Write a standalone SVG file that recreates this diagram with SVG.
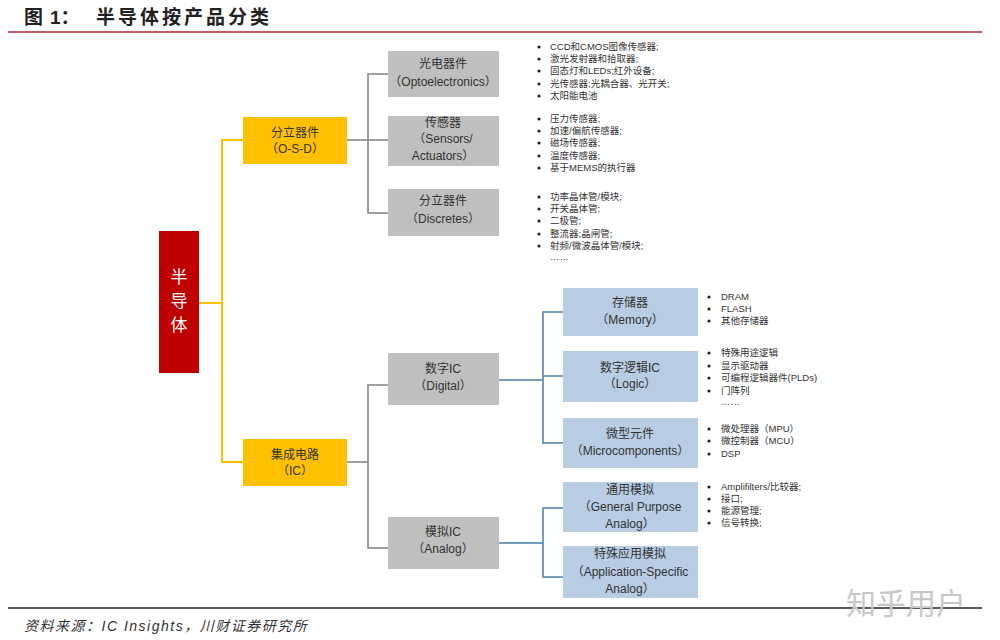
<svg xmlns="http://www.w3.org/2000/svg" width="1000" height="640" viewBox="0 0 1000 640">
<style>
text{font-family:"Liberation Sans","Noto Sans CJK SC",sans-serif;}
.bt{font-size:12px;fill:#333;text-anchor:middle;}
.li{font-size:9.5px;fill:#333;}
.dot{fill:#222;}
.gray{fill:#BFBFBF;}
.blue{fill:#B8CCE4;}
.yel{fill:#FFC000;}
.cy{stroke:#FFC000;stroke-width:2;fill:none;}
.cg{stroke:#808080;stroke-width:1.5;fill:none;}
.cb{stroke:#4A7EA8;stroke-width:1.5;fill:none;}
</style>
<rect width="1000" height="640" fill="#fff"/>
<text x="24" y="24" font-size="19" font-weight="bold" fill="#222">图</text>
<text x="50" y="24" font-size="19" font-weight="bold" fill="#222">1：</text>
<text x="96" y="24" font-size="19" font-weight="bold" fill="#222" letter-spacing="3">半导体按产品分类</text>
<line x1="8" y1="32" x2="982" y2="32" stroke="#B0222A" stroke-width="1.5"/>

<g id="connectors">
<path class="cy" d="M199 303H222M243 140H222V462H243"/>
<path class="cg" d="M347 140H368M388 74H368V213H388M368 140H388"/>
<path class="cg" d="M347 462H368M388 385H368V548H388"/>
<path class="cb" d="M499 380H543M563 312H543V443H563M543 376H563"/>
<path class="cb" d="M499 543H543M563 508H543V577H563"/>
</g>

<g id="root"><rect x="159" y="231" width="40" height="142" fill="#C00000"/>
<text x="179" y="283" font-size="17" fill="#fff" text-anchor="middle">半</text>
<text x="179" y="307" font-size="17" fill="#fff" text-anchor="middle">导</text>
<text x="179" y="331" font-size="17" fill="#fff" text-anchor="middle">体</text></g>

<g id="osd"><rect class="yel" x="243" y="117" width="104" height="47"/>
<text class="bt" x="295" y="137">分立器件</text><text class="bt" x="295" y="153">（O-S-D）</text></g>
<g id="ic"><rect class="yel" x="243" y="439" width="104" height="47"/>
<text class="bt" x="295" y="459">集成电路</text><text class="bt" x="295" y="475">（IC）</text></g>

<g id="opto"><rect class="gray" x="388" y="51" width="111" height="46"/>
<text class="bt" x="443" y="68">光电器件</text><text class="bt" x="443" y="86">（Optoelectronics）</text></g>
<g id="sensors"><rect class="gray" x="388" y="116" width="111" height="50"/>
<text class="bt" x="443" y="127">传感器</text><text class="bt" x="443" y="143">（Sensors/</text><text class="bt" x="443" y="160">Actuators）</text></g>
<g id="discretes"><rect class="gray" x="388" y="189" width="111" height="47"/>
<text class="bt" x="443" y="205">分立器件</text><text class="bt" x="443" y="223">（Discretes）</text></g>
<g id="digital"><rect class="gray" x="388" y="353" width="111" height="52"/>
<text class="bt" x="443" y="373">数字IC</text><text class="bt" x="443" y="390">（Digital）</text></g>
<g id="analog"><rect class="gray" x="388" y="517" width="111" height="52"/>
<text class="bt" x="443" y="536">模拟IC</text><text class="bt" x="443" y="553">（Analog）</text></g>

<g id="memory"><rect class="blue" x="563" y="288" width="135" height="48"/>
<text class="bt" x="630" y="307">存储器</text><text class="bt" x="630" y="324">（Memory）</text></g>
<g id="logic"><rect class="blue" x="563" y="351" width="135" height="51"/>
<text class="bt" x="630" y="372">数字逻辑IC</text><text class="bt" x="630" y="388">（Logic）</text></g>
<g id="micro"><rect class="blue" x="563" y="418" width="135" height="50"/>
<text class="bt" x="630" y="438">微型元件</text><text class="bt" x="630" y="455">（Microcomponents）</text></g>
<g id="general"><rect class="blue" x="563" y="482" width="135" height="50"/>
<text class="bt" x="630" y="494">通用模拟</text><text class="bt" x="630" y="511">（General Purpose</text><text class="bt" x="630" y="528">Analog）</text></g>
<g id="appspec"><rect class="blue" x="563" y="546" width="135" height="52"/>
<text class="bt" x="630" y="558">特殊应用模拟</text><text class="bt" x="630" y="576">（Application-Specific</text><text class="bt" x="630" y="593">Analog）</text></g>

<g id="list-opto">
<circle class="dot" cx="539" cy="47" r="1.6"/><text class="li" x="550" y="50">CCD和CMOS图像传感器;</text>
<circle class="dot" cx="539" cy="59" r="1.6"/><text class="li" x="550" y="62">激光发射器和拾取器;</text>
<circle class="dot" cx="539" cy="71" r="1.6"/><text class="li" x="550" y="74">固态灯和LEDs;红外设备;</text>
<circle class="dot" cx="539" cy="84" r="1.6"/><text class="li" x="550" y="87">光传感器;光耦合器、光开关;</text>
<circle class="dot" cx="539" cy="96" r="1.6"/><text class="li" x="550" y="99">太阳能电池</text>
</g>
<g id="list-sensors">
<circle class="dot" cx="539" cy="119" r="1.6"/><text class="li" x="550" y="122">压力传感器;</text>
<circle class="dot" cx="539" cy="131" r="1.6"/><text class="li" x="550" y="134">加速/偏航传感器;</text>
<circle class="dot" cx="539" cy="143" r="1.6"/><text class="li" x="550" y="146">磁场传感器;</text>
<circle class="dot" cx="539" cy="156" r="1.6"/><text class="li" x="550" y="159">温度传感器;</text>
<circle class="dot" cx="539" cy="168" r="1.6"/><text class="li" x="550" y="171">基于MEMS的执行器</text>
</g>
<g id="list-discretes">
<circle class="dot" cx="539" cy="197" r="1.6"/><text class="li" x="550" y="200">功率晶体管/模块;</text>
<circle class="dot" cx="539" cy="209" r="1.6"/><text class="li" x="550" y="212">开关晶体管;</text>
<circle class="dot" cx="539" cy="221" r="1.6"/><text class="li" x="550" y="224">二极管;</text>
<circle class="dot" cx="539" cy="234" r="1.6"/><text class="li" x="550" y="237">整流器;晶闸管;</text>
<circle class="dot" cx="539" cy="246" r="1.6"/><text class="li" x="550" y="249">射频/微波晶体管/模块;</text>
<text class="li" x="550" y="260">……</text>
</g>
<g id="list-memory">
<circle class="dot" cx="709" cy="297" r="1.6"/><text class="li" x="721" y="300">DRAM</text>
<circle class="dot" cx="709" cy="309" r="1.6"/><text class="li" x="721" y="312">FLASH</text>
<circle class="dot" cx="709" cy="321" r="1.6"/><text class="li" x="721" y="324">其他存储器</text>
</g>
<g id="list-logic">
<circle class="dot" cx="709" cy="353" r="1.6"/><text class="li" x="721" y="356">特殊用途逻辑</text>
<circle class="dot" cx="709" cy="366" r="1.6"/><text class="li" x="721" y="369">显示驱动器</text>
<circle class="dot" cx="709" cy="378" r="1.6"/><text class="li" x="721" y="381">可编程逻辑器件(PLDs)</text>
<circle class="dot" cx="709" cy="391" r="1.6"/><text class="li" x="721" y="394">门阵列</text>
<text class="li" x="721" y="405">……</text>
</g>
<g id="list-micro">
<circle class="dot" cx="709" cy="429" r="1.6"/><text class="li" x="721" y="432">微处理器（MPU）</text>
<circle class="dot" cx="709" cy="441" r="1.6"/><text class="li" x="721" y="444">微控制器（MCU）</text>
<circle class="dot" cx="709" cy="454" r="1.6"/><text class="li" x="721" y="457">DSP</text>
</g>
<g id="list-general">
<circle class="dot" cx="709" cy="487" r="1.6"/><text class="li" x="721" y="490">Amplifilters/比较器;</text>
<circle class="dot" cx="709" cy="499" r="1.6"/><text class="li" x="721" y="502">接口;</text>
<circle class="dot" cx="709" cy="511" r="1.6"/><text class="li" x="721" y="514">能源管理;</text>
<circle class="dot" cx="709" cy="523" r="1.6"/><text class="li" x="721" y="526">信号转换;</text>
</g>

<line x1="8" y1="608" x2="982" y2="608" stroke="#222" stroke-width="1.5"/>
<text x="24" y="631" font-size="14" font-style="italic" fill="#333" letter-spacing="1.5">资料来源：IC Insights，川财证券研究所</text>
<text x="846" y="614" font-size="30" fill="#C8C8C8">知乎用户</text>
</svg>
